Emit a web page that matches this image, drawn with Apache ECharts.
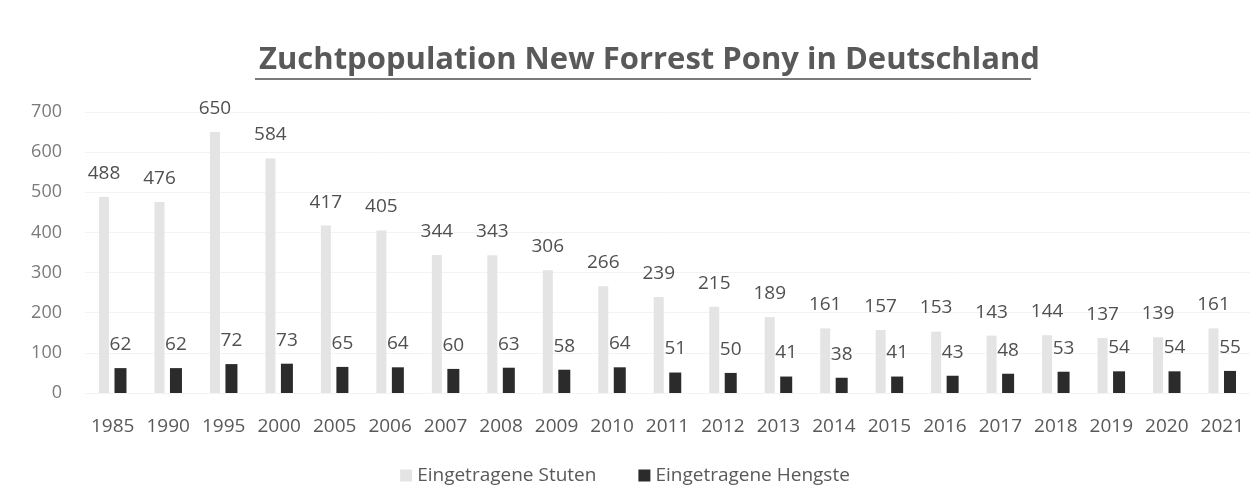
<!DOCTYPE html>
<html>
<head>
<meta charset="utf-8">
<script src="https://cdn.jsdelivr.net/npm/echarts@6/dist/echarts.min.js"></script>
<style>html,body{margin:0;padding:0;background:#fff}#c{width:1250px;height:495px}</style>
</head>
<body>
<div id="c"></div>
<script>
const years = ['1985','1990','1995','2000','2005','2006','2007','2008','2009','2010','2011','2012','2013','2014','2015','2016','2017','2018','2019','2020','2021'];
const stuten = [488,476,650,584,417,405,344,343,306,266,239,215,189,161,157,153,143,144,137,139,161];
const hengste = [62,62,72,73,65,64,60,63,58,64,51,50,41,38,41,43,48,53,54,54,55];
const titleText = 'Zuchtpopulation New Forrest Pony in Deutschland';
const seriesNames = ['Eingetragene Stuten','Eingetragene Hengste'];

const font = '"Open Sans", Lato, sans-serif';
const chart = echarts.init(document.getElementById('c'), null, {renderer:'canvas'});
const labelStyle = {show:true, position:'top', distance:14, color:'#505050', fontSize:19, fontFamily:font};
chart.setOption({
  backgroundColor:'#ffffff',
  animation:false,
  title:{text:titleText, left:254, top:40, textStyle:{fontFamily:font, fontWeight:'bold', fontSize:31, color:'#595959'}},
  graphic:[{type:'rect', shape:{x:255, y:78, width:776, height:2}, style:{fill:'#7a7a7a'}}],
  grid:{left:85, right:0, top:112, bottom:102, containLabel:false},
  legend:{top:461, left:'center', itemWidth:12, itemHeight:12, itemGap:42, icon:'rect',
    textStyle:{fontFamily:font, fontSize:19, color:'#595959'}},
  xAxis:{type:'category', data:years,
    axisLine:{show:false}, axisTick:{show:false},
    axisLabel:{margin:24, fontSize:19, color:'#595959', fontFamily:font, interval:0}},
  yAxis:{type:'value', min:0, max:700, interval:100,
    axisLine:{show:false}, axisTick:{show:false},
    splitLine:{lineStyle:{color:'#f3f3f3', width:1}},
    axisLabel:{margin:23, fontSize:18, color:'#7a7a7a', fontFamily:font}},
  series:[
    {name:seriesNames[0], type:'bar', data:stuten, barWidth:10, barGap:'55%', itemStyle:{color:'#e4e4e4'}, label:labelStyle},
    {name:seriesNames[1], type:'bar', data:hengste, barWidth:12, itemStyle:{color:'#2b2b2b'}, label:labelStyle}
  ]
});
</script>
</body>
</html>
